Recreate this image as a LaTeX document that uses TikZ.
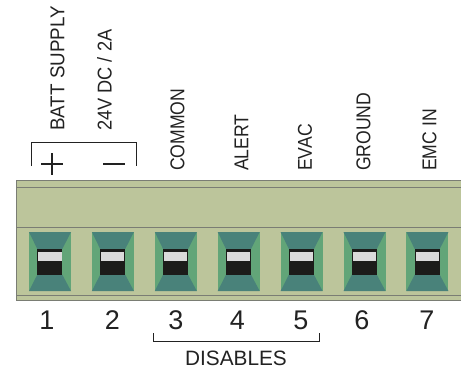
\documentclass[tikz,border=0pt]{standalone}
\usepackage{fontspec}
\setmainfont{Liberation Sans}
\newfontfamily\narrowa[FakeStretch=0.88]{Liberation Sans}
\newfontfamily\narrowb[FakeStretch=0.91]{Liberation Sans}
\newfontfamily\narrowc[FakeStretch=0.94]{Liberation Sans}
\definecolor{bodyc}{HTML}{BCC59B}
\definecolor{linec}{HTML}{7A7D74}
\definecolor{teal1}{HTML}{49827A}
\definecolor{green1}{HTML}{62A578}
\definecolor{blk}{HTML}{1C1C1A}
\definecolor{wht}{HTML}{DADADA}
\definecolor{inkc}{HTML}{222222}
\tikzset{
  x=1pt,y=-1pt,
  rail/.style={draw=linec,line width=1pt},
  brack/.style={draw=inkc,line width=0.9pt},
  vlabel/.style={rotate=90,anchor=west,inner sep=0pt,text=inkc,font=\narrowa\fontsize{20}{21}\selectfont},
  vlabeltop/.style={rotate=90,anchor=west,inner sep=0pt,text=inkc,font=\narrowb\fontsize{20}{21}\selectfont},
  vlabelbatt/.style={rotate=90,anchor=west,inner sep=0pt,text=inkc,font=\narrowc\fontsize{20}{21}\selectfont},
  num/.style={inner sep=0pt,text=inkc,font=\fontsize{27}{28}\selectfont},
  sign/.style={draw=inkc,line width=2pt},
}
\begin{document}
\begin{tikzpicture}
\useasboundingbox (0,0) rectangle (461,369);
% body
\fill[bodyc] (16,180.5) rectangle (461,300);
\draw[rail] (461,180.5) -- (16,180.5) -- (16,300.5) -- (461,300.5);
\draw[rail] (16,187) -- (461,187);
\draw[rail] (16,227.5) -- (461,227.5);
\draw[rail] (16,295) -- (461,295);
% terminals
\foreach \i/\tx in {1/47,2/112.3,3/176,4/237.5,5/301,6/362,7/427}{
  \pgfmathsetmacro{\xx}{29+(\i-1)*62.9}
  \begin{scope}[shift={(\xx,0)}]
    \fill[green1] (0,232) rectangle (42,291);
    \fill[teal1] (0,232) -- (42,232) -- (33.3,249) -- (8.3,249) -- cycle;
    \fill[teal1] (0,291) -- (42,291) -- (33.3,274.7) -- (8.3,274.7) -- cycle;
    \fill[blk] (8.3,249) rectangle (33.3,274.7);
    \fill[wht] (9.2,252) rectangle (32.5,261);
  \end{scope}
  \node[num] (n\i) at (\tx,320) {\i};
}
% supply bracket
\coordinate (s1) at (31.5,166);
\coordinate (s2) at (31.5,142.5);
\coordinate (s3) at (136.5,142.5);
\coordinate (s4) at (136.5,166);
\draw[brack] (s1) -- (s2) -- (s3) -- (s4);
\coordinate (p1) at (41,163.5);
\coordinate (p2) at (63,163.5);
\coordinate (p3) at (52.3,153);
\coordinate (p4) at (52.3,174.5);
\draw[sign] (p1) -- (p2);
\draw[sign] (p3) -- (p4);
\coordinate (m1) at (103,163.5);
\coordinate (m2) at (125,163.5);
\draw[sign] (m1) -- (m2);
% labels
\node[vlabelbatt] (l1) at (57.5,131) {BATT SUPPLY};
\node[vlabeltop] (l2) at (104.5,131) {24V DC / 2A};
\node[vlabel] (l3) at (177.5,171) {COMMON};
\node[vlabel] (l4) at (241.5,171) {ALERT};
\node[vlabel] (l5) at (305,171) {EVAC};
\node[vlabel] (l6) at (363.5,171) {GROUND};
\node[vlabel] (l7) at (429.5,171) {EMC IN};
% disables bracket
\coordinate (d1) at (153,333);
\coordinate (d2) at (153,341.5);
\coordinate (d3) at (319,341.5);
\coordinate (d4) at (319,333);
\draw[brack] (d1) -- (d2) -- (d3) -- (d4);
\node[inner sep=0pt,text=inkc,font=\fontsize{20.8}{21}\selectfont] (dis) at (236,358) {DISABLES};
\end{tikzpicture}
\end{document}
